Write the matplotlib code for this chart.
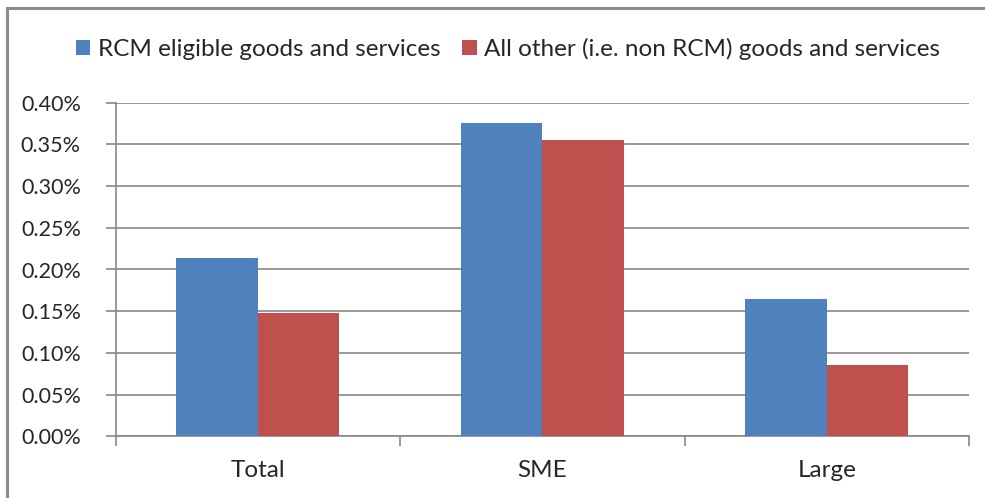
import matplotlib
matplotlib.use("Agg")
import matplotlib.pyplot as plt
import numpy as np
from matplotlib.patches import Rectangle
from matplotlib.ticker import FuncFormatter, FixedLocator

categories = ["Total", "SME", "Large"]
series_names = ["RCM eligible goods and services",
                "All other (i.e. non RCM) goods and services"]
rcm_values = [0.214, 0.376, 0.165]      # percent
other_values = [0.148, 0.355, 0.086]    # percent
y_ticks = [0.0, 0.05, 0.10, 0.15, 0.20, 0.25, 0.30, 0.35, 0.40]

BLUE = "#4F81BD"
RED = "#C0504D"
GRID = "#878787"
TEXT = "#262626"

plt.rcParams["font.family"] = ["Lato", "DejaVu Sans"]

fig = plt.figure(figsize=(9.85, 4.98), dpi=100)
ax = fig.add_axes([115.5 / 985, 1 - 436.3 / 498, (969 - 115.5) / 985, (436.3 - 102.7) / 498])

x = np.arange(len(categories))
bar_w = 0.286
ax.bar(x - bar_w / 2, rcm_values, bar_w, color=BLUE, label=series_names[0], zorder=3)
ax.bar(x + bar_w / 2, other_values, bar_w, color=RED, label=series_names[1], zorder=3)

ax.set_xlim(-0.5, len(categories) - 0.5)
ax.set_ylim(0, 0.40)
ax.yaxis.set_major_locator(FixedLocator(y_ticks))
ax.yaxis.set_major_formatter(FuncFormatter(lambda v, _: f"{v:.2f}%"))
ax.grid(axis="y", color=GRID, linewidth=1.2, zorder=0)

# category labels sit between boundary ticks
ax.set_xticks(np.arange(len(categories) + 1) - 0.5)
ax.set_xticklabels([])
ax.set_xticks(x, minor=True)
ax.set_xticklabels(categories, minor=True)
ax.tick_params(axis="x", which="minor", length=0, pad=17, labelsize=17.5, labelcolor=TEXT)
ax.tick_params(axis="x", which="major", length=7, width=1.2, color=GRID, direction="out")
ax.tick_params(axis="y", length=7, width=1.2, color=GRID, direction="out", pad=18,
               labelsize=15.5, labelcolor=TEXT)

for side in ("top", "right"):
    ax.spines[side].set_visible(False)
for side in ("left", "bottom"):
    ax.spines[side].set_color(GRID)
    ax.spines[side].set_linewidth(1.2)

fig.legend(loc="center", bbox_to_anchor=(508 / 985, 1 - 49 / 498), ncol=2, frameon=False,
           fontsize=17.5, handlelength=0.6, handleheight=0.6, handletextpad=0.3,
           columnspacing=0.9, labelcolor=TEXT)

# outer chart border
fig.patches.append(Rectangle((7 / 985, -0.1), 1.2, 1 - 8 / 498 + 0.1, transform=fig.transFigure,
                             fill=False, edgecolor="#8C8C8C", linewidth=2.2, zorder=0))

fig.savefig("out.png", dpi=100)
